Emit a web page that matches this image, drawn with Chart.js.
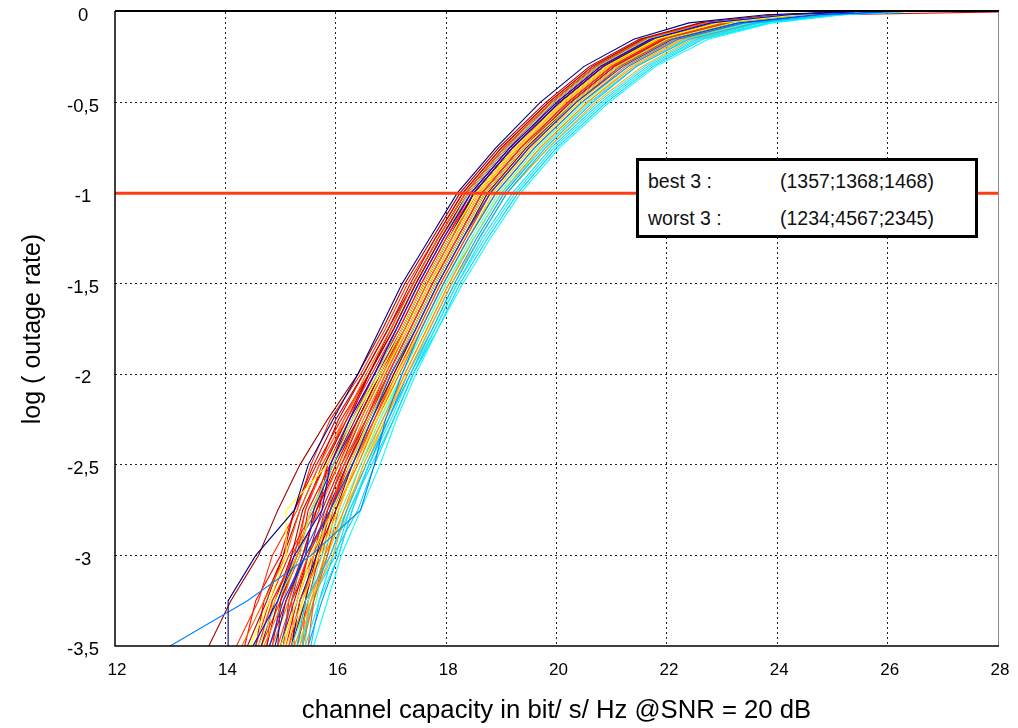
<!DOCTYPE html>
<html>
<head>
<meta charset="utf-8">
<script src="https://cdn.jsdelivr.net/npm/chart.js@4/dist/chart.umd.min.js"></script>
<style>
  body { margin: 0; background: #fff; }
  #wrap { position: relative; width: 1018px; height: 728px; }
  #legenda {
    position: absolute; left: 636px; top: 158px; width: 336px; height: 74px;
    border: 3px solid #000; background: #fff;
    font-family: "Liberation Sans", Arial, sans-serif; font-size: 19.5px; color: #111;
  }
  #legenda div { position: absolute; white-space: nowrap; }
</style>
</head>
<body>
<div id="wrap">
  <canvas id="grafico" width="1018" height="728"></canvas>
  <div id="legenda">
    <div style="left:9px; top:9px">best 3 :</div>
    <div style="left:141px; top:9px">(1357;1368;1468)</div>
    <div style="left:9px; top:46px">worst 3 :</div>
    <div style="left:141px; top:46px">(1234;4567;2345)</div>
  </div>
</div>
<script>
// log10 outage levels where each run's capacity is sampled
const logLevels = [-3.5, -3.25, -3, -2.75, -2.5, -2.25, -2, -1.75, -1.5, -1.25, -1, -0.75, -0.5, -0.3, -0.15, -0.06, -0.015, 0];

// capacity (bit/s/Hz) of each run at the levels above
const runs = [
  [14.05, 14.05, 14.55, 15.25, 15.5, 15.95, 16.4, 16.8, 17.2, 17.7, 18.2, 18.9, 19.7, 20.5, 21.4, 22.4, 23.8, 25.2],
  [14.5, 14.95, 15.25, 15.75, 15.9, 16.25, 16.7, 17.1, 17.5, 17.95, 18.45, 19.15, 20.0, 20.8, 21.7, 22.8, 24.2, 25.4],
  [14.8, 15.05, 15.45, 15.9, 16.3, 16.65, 17.0, 17.45, 17.85, 18.3, 18.8, 19.5, 20.35, 21.2, 22.1, 23.3, 24.7, 25.9],
  [13.0, 14.4, 15.55, 16.45, 16.7, 16.9, 17.2, 17.55, 17.95, 18.4, 18.9, 19.6, 20.45, 21.3, 22.2, 23.4, 24.8, 26.0],
  [15.3, 15.45, 15.9, 16.2, 16.55, 16.95, 17.35, 17.75, 18.15, 18.6, 19.1, 19.8, 20.65, 21.45, 22.4, 23.6, 25.0, 26.1],
  [15.6, 15.85, 16.1, 16.45, 16.8, 17.1, 17.45, 17.85, 18.3, 18.8, 19.35, 20.05, 20.95, 21.8, 22.75, 23.9, 25.2, 26.3],
  [15.45, 15.7, 16.05, 16.3, 16.6, 17.0, 17.35, 17.8, 18.2, 18.7, 19.25, 19.95, 20.85, 21.7, 22.6, 23.8, 25.1, 26.2],
  [15.2, 15.5, 15.75, 16.1, 16.45, 16.8, 17.2, 17.6, 18.0, 18.5, 19.0, 19.75, 20.6, 21.45, 22.35, 23.5, 24.9, 26.0],
  [14.6, 14.95, 15.35, 15.55, 15.95, 16.3, 16.75, 17.1, 17.5, 17.95, 18.4, 19.1, 19.95, 20.75, 21.65, 22.8, 24.2, 25.4],
  [15.0, 15.3, 15.55, 15.95, 16.25, 16.6, 17.0, 17.4, 17.8, 18.25, 18.7, 19.4, 20.3, 21.1, 22.0, 23.2, 24.6, 25.8],
  [14.45, 14.8, 15.1, 15.1, 15.85, 16.3, 16.8, 17.2, 17.6, 18.05, 18.55, 19.25, 20.1, 20.9, 21.8, 22.95, 24.4, 25.6],
  [15.1, 15.4, 15.7, 16.05, 16.35, 16.75, 17.1, 17.55, 17.95, 18.4, 18.85, 19.55, 20.4, 21.2, 22.1, 23.3, 24.7, 25.9],
  [15.35, 15.55, 15.95, 16.2, 16.5, 16.9, 17.3, 17.7, 18.1, 18.6, 19.1, 19.85, 20.7, 21.55, 22.45, 23.6, 25.0, 26.1],
  [14.7, 15.05, 15.3, 15.7, 16.05, 16.45, 16.85, 17.25, 17.65, 18.1, 18.55, 19.25, 20.1, 20.9, 21.8, 22.9, 24.3, 25.5],
  [14.3, 14.7, 15.1, 15.35, 15.7, 16.15, 16.55, 17.0, 17.4, 17.85, 18.35, 19.05, 19.9, 20.7, 21.6, 22.7, 24.1, 25.3],
  [14.95, 15.2, 15.5, 15.85, 16.1, 16.55, 16.95, 17.35, 17.75, 18.2, 18.65, 19.35, 20.2, 21.0, 21.9, 23.05, 24.45, 25.6],
  [14.6, 14.85, 15.25, 15.45, 15.75, 16.2, 16.65, 17.1, 17.5, 17.95, 18.45, 19.15, 20.0, 20.8, 21.7, 22.8, 24.2, 25.4],
  [15.1, 15.3, 15.5, 15.9, 16.2, 16.6, 16.95, 17.35, 17.75, 18.2, 18.65, 19.35, 20.2, 21.0, 21.9, 23.0, 24.4, 25.6],
  [14.8, 15.1, 15.4, 15.65, 16.0, 16.4, 16.8, 17.25, 17.65, 18.1, 18.55, 19.25, 20.1, 20.9, 21.8, 22.9, 24.3, 25.5],
  [14.4, 14.75, 15.05, 15.25, 15.6, 16.0, 16.5, 16.95, 17.35, 17.8, 18.3, 19.0, 19.85, 20.65, 21.55, 22.7, 24.1, 25.3],
  [13.7, 14.1, 14.6, 14.95, 15.35, 15.85, 16.4, 16.85, 17.25, 17.75, 18.25, 18.95, 19.8, 20.6, 21.5, 22.6, 24.0, 25.2],
  [15.2, 15.45, 15.65, 16.0, 16.3, 16.65, 17.05, 17.45, 17.85, 18.3, 18.75, 19.45, 20.3, 21.1, 22.0, 23.2, 24.6, 25.8],
  [15.5, 15.6, 15.85, 16.05, 16.35, 16.7, 17.05, 17.45, 17.85, 18.3, 18.8, 19.5, 20.35, 21.15, 22.05, 23.2, 24.6, 25.8],
  [14.2, 14.6, 14.85, 15.3, 15.55, 15.9, 16.45, 16.9, 17.3, 17.8, 18.3, 19.0, 19.85, 20.65, 21.55, 22.65, 24.0, 25.2],
  [15.25, 15.55, 15.8, 16.15, 16.45, 16.85, 17.25, 17.65, 18.05, 18.5, 19.0, 19.7, 20.55, 21.4, 22.3, 23.5, 24.9, 26.0],
  [15.5, 15.75, 16.05, 16.3, 16.6, 16.95, 17.3, 17.7, 18.1, 18.55, 19.05, 19.75, 20.6, 21.45, 22.35, 23.5, 24.9, 26.0],
  [14.9, 15.1, 15.45, 15.6, 15.95, 16.4, 16.8, 17.2, 17.6, 18.05, 18.5, 19.2, 20.05, 20.85, 21.75, 22.9, 24.3, 25.5],
  [14.5, 14.9, 15.3, 15.55, 16.0, 16.4, 16.85, 17.3, 17.7, 18.15, 18.6, 19.3, 20.15, 20.95, 21.85, 23.0, 24.4, 25.6],
  [15.0, 15.25, 15.5, 15.75, 16.1, 16.45, 16.85, 17.25, 17.65, 18.1, 18.5, 19.2, 20.05, 20.85, 21.75, 22.85, 25.0, 28.0],
  [14.85, 15.15, 15.45, 15.9, 16.15, 16.5, 16.9, 17.3, 17.7, 18.15, 18.6, 19.3, 20.15, 20.95, 21.85, 23.0, 24.4, 25.6],
  [14.65, 14.9, 15.2, 15.4, 15.8, 16.2, 16.6, 17.05, 17.45, 17.9, 18.4, 19.1, 19.95, 20.75, 21.65, 22.75, 24.15, 25.35],
  [15.3, 15.5, 15.7, 15.9, 16.25, 16.6, 17.0, 17.4, 17.8, 18.25, 18.7, 19.4, 20.25, 21.05, 21.95, 23.1, 24.5, 25.7],
  [14.35, 14.55, 15.0, 15.25, 15.65, 16.1, 16.6, 17.05, 17.45, 17.9, 18.4, 19.1, 19.95, 20.75, 21.65, 22.75, 24.15, 25.35],
  [15.15, 15.35, 15.75, 15.95, 16.3, 16.7, 17.1, 17.5, 17.9, 18.35, 18.8, 19.5, 20.35, 21.15, 22.05, 23.2, 24.6, 25.8],
  [15.4, 15.55, 16.0, 16.25, 16.65, 17.05, 17.4, 17.8, 18.2, 18.65, 19.2, 19.9, 20.8, 21.65, 22.55, 23.7, 25.1, 26.2],
  [15.05, 15.3, 15.6, 15.95, 16.25, 16.65, 17.05, 17.45, 17.85, 18.3, 18.75, 19.45, 20.3, 21.1, 22.0, 23.15, 24.55, 25.75],
  [14.75, 14.95, 15.3, 15.55, 15.95, 16.35, 16.75, 17.2, 17.6, 18.05, 18.5, 19.2, 20.05, 20.85, 21.75, 22.85, 24.25, 25.45],
  [15.4, 15.6, 15.8, 16.0, 16.4, 16.75, 17.15, 17.55, 17.95, 18.4, 18.9, 19.6, 20.45, 21.25, 22.15, 23.3, 24.7, 25.9],
  [15.2, 15.35, 15.65, 15.85, 16.2, 16.6, 17.0, 17.4, 17.8, 18.25, 18.7, 19.4, 20.25, 21.05, 21.95, 23.1, 24.5, 25.7],
  [14.55, 14.8, 15.15, 15.6, 15.85, 16.25, 16.7, 17.15, 17.55, 18.0, 18.45, 19.15, 20.0, 20.8, 21.7, 22.8, 24.2, 25.4],
  [14.85, 15.0, 15.35, 15.5, 15.9, 16.3, 16.7, 17.15, 17.55, 18.0, 18.5, 19.2, 20.05, 20.85, 21.75, 22.85, 24.25, 25.45],
  [15.25, 15.2, 15.6, 15.8, 16.15, 16.55, 16.9, 17.3, 17.7, 18.15, 18.6, 19.3, 20.15, 20.95, 21.85, 23.0, 24.4, 25.6],
  [15.45, 15.5, 15.85, 16.15, 16.55, 16.9, 17.25, 17.65, 18.05, 18.5, 19.0, 19.7, 20.55, 21.35, 22.25, 23.4, 24.8, 25.95],
  [15.3, 15.65, 15.8, 16.2, 16.5, 16.85, 17.2, 17.6, 18.0, 18.45, 18.95, 19.65, 20.5, 21.3, 22.2, 23.4, 24.8, 25.9],
  [14.55, 14.7, 15.05, 15.35, 15.7, 16.05, 16.5, 16.95, 17.4, 17.85, 18.35, 19.05, 19.9, 20.7, 21.6, 22.7, 24.1, 25.3],
  [15.15, 15.45, 15.55, 15.95, 16.2, 16.6, 17.0, 17.4, 17.8, 18.25, 18.7, 19.4, 20.25, 21.05, 21.95, 23.1, 24.5, 25.7],
  [15.55, 15.7, 15.95, 16.4, 16.7, 17.05, 17.4, 17.85, 18.25, 18.75, 19.3, 20.0, 20.9, 21.75, 22.65, 23.85, 25.15, 26.25],
  [14.65, 15.0, 15.2, 15.65, 15.9, 16.3, 16.7, 17.1, 17.5, 17.95, 18.4, 19.1, 19.95, 20.75, 21.65, 22.75, 24.15, 25.35],
  [14.95, 15.0, 15.3, 15.7, 15.85, 16.25, 16.6, 17.0, 17.4, 17.85, 18.35, 19.05, 19.9, 20.7, 21.6, 22.7, 24.1, 25.3],
  [15.3, 15.4, 15.7, 16.05, 16.4, 16.8, 17.15, 17.55, 17.95, 18.4, 18.85, 19.55, 20.4, 21.2, 22.1, 23.25, 24.65, 25.85],
  [15.0, 15.2, 15.4, 15.8, 16.15, 16.55, 16.95, 17.35, 17.75, 18.2, 18.65, 19.35, 20.2, 21.0, 21.9, 23.05, 24.45, 25.65],
  [14.75, 14.85, 15.3, 15.45, 15.8, 16.15, 16.6, 17.05, 17.45, 17.9, 18.4, 19.1, 19.95, 20.75, 21.65, 22.75, 24.15, 25.35],
  [15.2, 15.35, 15.7, 15.85, 16.3, 16.7, 17.1, 17.5, 17.9, 18.35, 18.8, 19.5, 20.35, 21.15, 22.05, 23.2, 24.6, 25.8],
  [15.05, 15.15, 15.4, 15.65, 16.05, 16.4, 16.8, 17.2, 17.6, 18.05, 18.5, 19.2, 20.05, 20.85, 21.75, 22.85, 24.25, 25.45],
  [15.35, 15.6, 15.9, 16.25, 16.6, 16.95, 17.3, 17.75, 18.15, 18.6, 19.1, 19.85, 20.75, 21.6, 22.5, 23.65, 25.05, 26.15],
  [15.4, 15.45, 15.6, 15.9, 16.2, 16.55, 16.95, 17.35, 17.75, 18.2, 18.65, 19.35, 20.2, 21.0, 21.9, 23.05, 24.45, 25.65]
];

const runColors = [
  '#00007f', '#0000ff', '#0040ff', '#0080ff', '#00c0ff', '#00ffff', '#20e8f0', '#40ffd0',
  '#80ff80', '#c0ff40', '#ffff00', '#ffd000', '#ffaa00', '#ff8000', '#ff6000', '#ff4000',
  '#ff2000', '#ff0000', '#e00000', '#c00000', '#a00000', '#800000', '#ff5000', '#ff3000',
  '#ff9000', '#00a0ff', '#0020c0', '#ffe000', '#d00000', '#ff7000', '#b00000', '#ff1000',
  '#ff0000', '#ff4000', '#00e0ff', '#ffc000', '#c00000', '#ff6000', '#0000c0', '#ff2000',
  '#ff0000', '#e02000', '#ffb000', '#60ffa0', '#c00000', '#ff8000', '#00d0ff', '#ff3000',
  '#900000', '#ffff40', '#2050ff', '#ff5000', '#ffa000', '#e00000', '#40e0e0', '#ff2000'
];

// target outage line
const targetLog = -1;
const capacityRange = [12, 28];

const xTicks = [12, 14, 16, 18, 20, 22, 24, 26, 28];
const yTicks = [0, -0.5, -1, -1.5, -2, -2.5, -3, -3.5];

var datasets = runs.map(function (caps, i) {
  return {
    data: caps.map(function (c, j) { return { x: c, y: logLevels[j] }; }),
    borderColor: runColors[i],
    borderWidth: 1.1,
    pointRadius: 0,
    tension: 0,
    order: 2
  };
});

datasets.push({
  data: capacityRange.map(function (c) { return { x: c, y: targetLog }; }),
  borderColor: 'rgb(255,60,20)',
  borderWidth: 3,
  pointRadius: 0,
  order: 0,
  clip: false
});

// frame around the plot area
const moldura = {
  id: 'moldura',
  afterDatasetsDraw: function (chart) {
    var a = chart.chartArea, ctx = chart.ctx;
    ctx.save();
    ctx.lineWidth = 1;
    ctx.strokeStyle = '#888';
    ctx.beginPath(); ctx.moveTo(a.right + 0.5, a.top); ctx.lineTo(a.right + 0.5, a.bottom); ctx.stroke();
    ctx.strokeStyle = '#000';
    ctx.lineWidth = 2;
    ctx.beginPath(); ctx.moveTo(a.left, a.top - 1); ctx.lineTo(a.right + 1, a.top - 1); ctx.stroke();
    ctx.lineWidth = 1.5;
    ctx.beginPath(); ctx.moveTo(a.left, a.top - 1); ctx.lineTo(a.left, a.bottom); ctx.lineTo(a.right + 1, a.bottom); ctx.stroke();
    ctx.restore();
  }
};

function gradeCor(ctx) {
  var v = ctx.tick ? ctx.tick.value : null;
  if (v === 12 || v === 28 || v === 0 || v === -3.5) return 'rgba(0,0,0,0)';
  return '#222';
}

var fonte = 'Liberation Sans, Arial, sans-serif';

new Chart(document.getElementById('grafico').getContext('2d'), {
  type: 'line',
  data: { datasets: datasets },
  plugins: [moldura],
  options: {
    responsive: false,
    devicePixelRatio: 1,
    animation: false,
    events: [],
    layout: { padding: { left: 0, top: 12, right: 20, bottom: 0 } },
    plugins: { legend: { display: false }, tooltip: { enabled: false } },
    scales: {
      x: {
        type: 'linear',
        min: 12, max: 28,
        afterFit: function (s) { s.height = 82; s.paddingLeft = 0; s.paddingRight = 0; },
        afterBuildTicks: function (s) { s.ticks = xTicks.map(function (v) { return { value: v }; }); },
        grid: { color: gradeCor, lineWidth: 1, drawTicks: false },
        border: { display: false, dash: [2, 3] },
        ticks: { padding: 14, labelOffset: 2, color: '#000', font: { family: fonte, size: 17 } },
        title: {
          display: true,
          text: 'channel capacity in bit/ s/ Hz @SNR = 20 dB',
          color: '#000',
          font: { family: fonte, size: 25.7 },
          padding: { top: 0, bottom: 2 }
        }
      },
      y: {
        type: 'linear',
        min: -3.5, max: 0,
        afterFit: function (s) { s.width = 115; s.paddingTop = 0; s.paddingBottom = 0; },
        afterBuildTicks: function (s) { s.ticks = yTicks.map(function (v) { return { value: v }; }); },
        grid: { color: gradeCor, lineWidth: 1, drawTicks: false },
        border: { display: false, dash: [2, 3] },
        ticks: {
          padding: 16,
          labelOffset: 4,
          crossAlign: 'center',
          color: '#000',
          font: { family: fonte, size: 18.5 },
          callback: function (v) { return String(v).replace('.', ','); }
        },
        title: {
          display: true,
          text: 'log ( outage rate)',
          color: '#000',
          font: { family: fonte, size: 25 },
          padding: { top: 18, bottom: 0 }
        }
      }
    }
  }
});
</script>
</body>
</html>
